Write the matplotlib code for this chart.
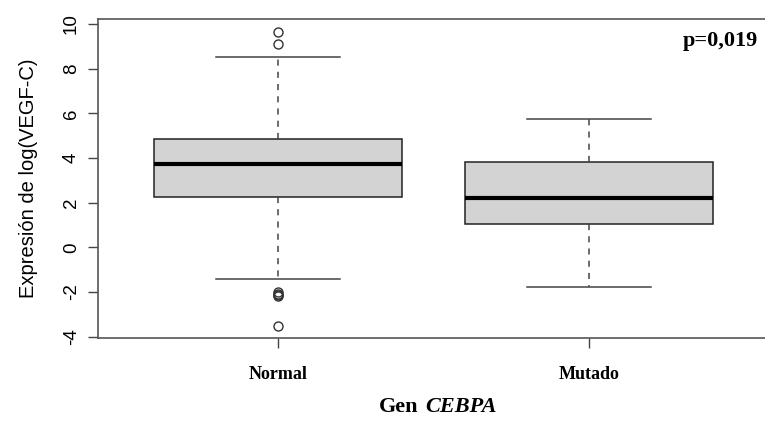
import matplotlib
matplotlib.use("Agg")
import matplotlib.pyplot as plt

plt.rcParams["axes.unicode_minus"] = False

# group summaries (log VEGF-C expression by CEBPA status)
groups = ["Normal", "Mutado"]
q1 = [2.27, 1.04]
medians = [3.73, 2.22]
q3 = [4.84, 3.83]
whisk_lo = [-1.43, -1.78]
whisk_hi = [8.52, 5.74]
outliers = [[9.65, 9.10, -1.98, -2.07, -2.14, -2.20, -3.51], []]
p_text = "p=0,019"

stats = []
for i, g in enumerate(groups):
    stats.append(dict(label=g, med=medians[i], q1=q1[i], q3=q3[i],
                      whislo=whisk_lo[i], whishi=whisk_hi[i], fliers=outliers[i]))

fig = plt.figure(figsize=(7.65, 4.23), dpi=100)
ax = fig.add_axes([98 / 765, 1 - 338 / 423, 1 - 98 / 765, (338 - 19) / 423])

ax.bxp(stats, positions=[1, 2], widths=0.8, capwidths=0.4, patch_artist=True,
       boxprops=dict(facecolor="#d3d3d3", edgecolor="#222222", linewidth=1.1),
       medianprops=dict(color="black", linewidth=3, solid_capstyle="butt"),
       whiskerprops=dict(color="#444444", linewidth=1.1, linestyle=(0, (4, 4))),
       capprops=dict(color="#444444", linewidth=1.1),
       flierprops=dict(marker="o", markerfacecolor="none", markeredgecolor="#333333",
                       markersize=6.5, markeredgewidth=1.0))

ax.set_xlim(0.4212, 2.566)
ax.set_ylim(-4.06, 10.22)
ax.set_yticks(range(-4, 11, 2))
ax.set_xticks([1, 2])
ax.set_xticklabels(groups, fontfamily="Liberation Serif", fontweight="bold", fontsize=13)
ax.tick_params(axis="x", length=7, width=1, color="#444444", pad=13)
ax.tick_params(axis="y", length=7, width=1, color="#444444", labelrotation=90,
               labelsize=13.5, pad=6)
for lab in ax.get_yticklabels():
    lab.set_fontfamily("Liberation Sans")
    lab.set_va("center")

for side in ["left", "top", "bottom"]:
    ax.spines[side].set_color("#555555")
    ax.spines[side].set_linewidth(1.2)
ax.spines["right"].set_visible(False)

ax.set_ylabel("Expresión de log(VEGF-C)", fontfamily="Liberation Sans", fontsize=14.5,
              labelpad=18)

ax.text(0.99, 0.93, p_text, transform=ax.transAxes, ha="right", va="center",
        fontfamily="Liberation Serif", fontweight="bold", fontsize=16)

# x-axis title with italic gene name
fig.text(418 / 765, 1 - 407 / 423, "Gen", ha="right", va="center",
         fontfamily="Liberation Serif", fontweight="bold", fontsize=16)
fig.text(425 / 765, 1 - 407 / 423, "CEBPA", ha="left", va="center",
         fontfamily="Liberation Serif", fontweight="bold", fontstyle="italic", fontsize=16)

fig.savefig("out.png", dpi=100)
